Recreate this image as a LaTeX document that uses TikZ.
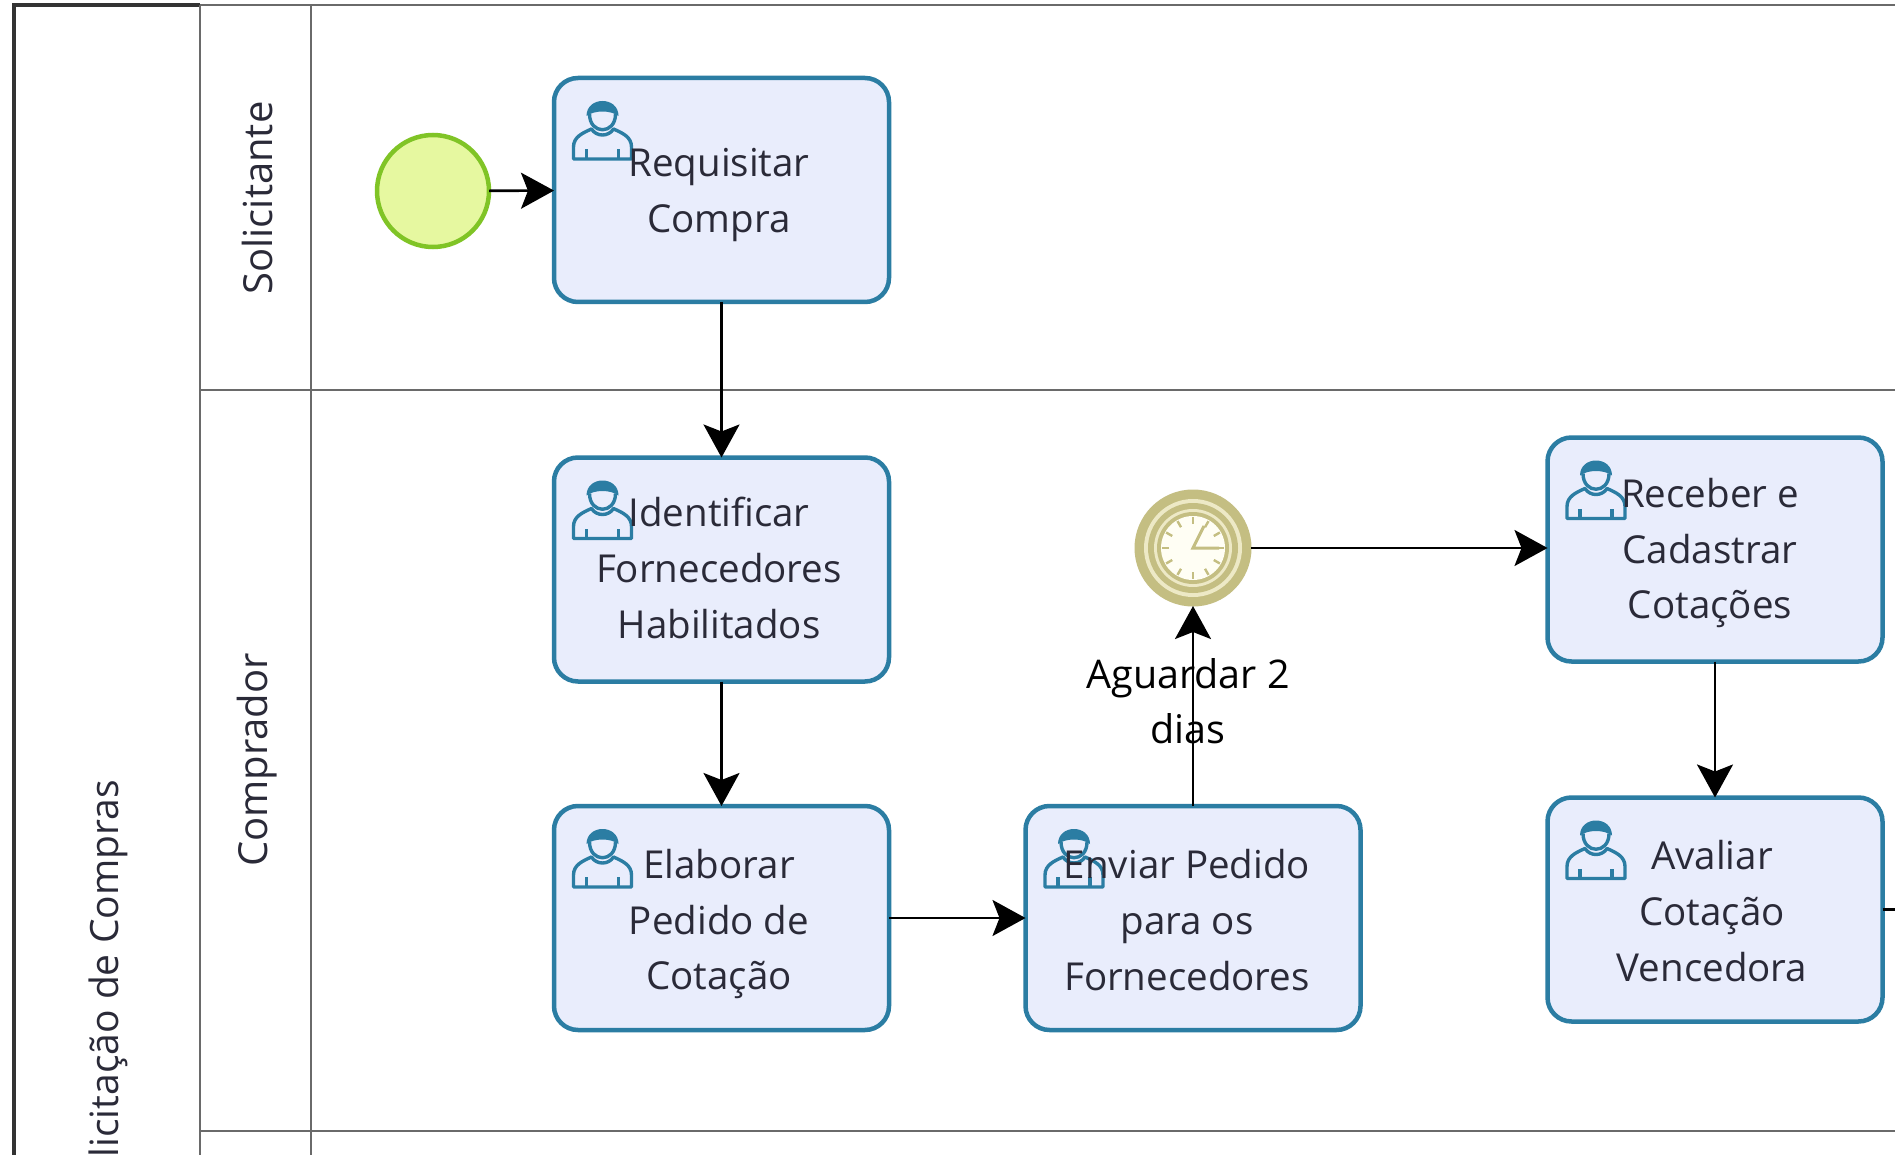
\documentclass[tikz,border=0pt]{standalone}
\usepackage{fontspec}
\setmainfont{Open Sans}
\usetikzlibrary{arrows.meta}
\definecolor{taskline}{HTML}{2B7DA3}
\definecolor{taskfill}{HTML}{E9EDFC}
\definecolor{laneline}{HTML}{6A6A6A}
\definecolor{txt}{HTML}{2A2A38}
\definecolor{timerolive}{HTML}{C4BE82}
\definecolor{timerpale}{HTML}{EDE9C6}
\definecolor{timerface}{HTML}{FFFEF4}
\tikzset{
  task/.style={draw=taskline,fill=taskfill,line width=4.5pt,rounded corners=24pt,
    minimum width=335pt,minimum height=224pt,inner sep=0pt,outer sep=0pt},
  tasklabel/.style={align=center,text=txt,inner sep=0pt,
    font=\fontsize{38.5}{55.6}\selectfont},
  lanelabel/.style={rotate=90,text=txt,inner sep=0pt,font=\fontsize{40}{44}\selectfont},
  laneedge/.style={draw=laneline,line width=2.6pt},
  flow/.style={draw=black,line width=2.6pt,-{Stealth[length=33pt,width=36pt,inset=7pt]}},
  plainflow/.style={draw=black,line width=2.6pt},
  usericon/.pic={
    \begin{scope}[draw=taskline,line width=3.4pt,line join=round]
      \draw (1,59) -- (1,47) .. controls (1,37) and (10,33) .. (19,29)
        .. controls (24,37) and (36,37) .. (41,29)
        .. controls (50,33) and (59,37) .. (59,47) -- (59,59) -- cycle;
      \draw (14,59) -- (14,49) (46,59) -- (46,49);
      \draw (17,14) .. controls (17,35) and (43,35) .. (43,14);
      \fill[taskline] (14,16) .. controls (14,-4) and (46,-4) .. (46,16)
        .. controls (38,10) and (22,10) .. (14,16) -- cycle;
    \end{scope}
  }
}
\begin{document}
\begin{tikzpicture}[x=1pt,y=-1pt]
\useasboundingbox (0,0) rectangle (1895,1155);
\begin{scope}
\clip (0,0) rectangle (1895,1155);
\fill[white] (0,0) rectangle (1895,1155);
% pool and lanes
\draw[laneedge] (14,5) -- (1895,5);
\draw[draw=black!80,line width=3.4pt] (14,1155) -- (14,5) -- (200,5);
\draw[laneedge] (200,5) -- (200,1155);
\draw[laneedge] (311,5) -- (311,1155);
\draw[laneedge] (200,390) -- (1895,390);
\draw[laneedge] (200,1131) -- (1895,1131);
\node[lanelabel,anchor=east,font=\fontsize{39}{44}\selectfont] (pooltitle) at (108,780) {Solicitação de Compras};
\node[lanelabel] (solicitante) at (257,198) {Solicitante};
\node[lanelabel] (comprador) at (257,760) {Comprador};
% start event
\node[circle,draw={rgb,255:red,128;green,196;blue,38},fill={rgb,255:red,230;green,248;blue,160},
  line width=4.5pt,minimum size=112pt,inner sep=0pt,outer sep=0pt] (start) at (433,191) {};
% tasks
\node[task] (req) at (721.5,190) {};
\node[task] (ident) at (721.5,569.5) {};
\node[task] (elab) at (721.5,918) {};
\node[task] (enviar) at (1193,918) {};
\node[task] (receber) at (1715,549.5) {};
\node[task] (avaliar) at (1715,909.5) {};
\foreach \n in {req,ident,elab,enviar,receber,avaliar}
  \pic[shift={(-149,-90)}] at (\n.center) {usericon};
\node[tasklabel] (reqt) at (719,195) {Requisitar\\Compra};
\node[tasklabel] (identt) at (719,568) {Identificar\\Fornecedores\\Habilitados};
\node[tasklabel] (elabt) at (719,924) {Elaborar\\Pedido de\\Cotação};
\node[tasklabel] (enviart) at (1187,920) {Enviar Pedido\\para os\\Fornecedores};
\node[tasklabel] (recebert) at (1710,553) {Receber e\\Cadastrar\\Cotações};
\node[tasklabel] (avaliart) at (1712,911) {Avaliar\\Cotação\\Vencedora};
% timer event
\node[circle,fill=timerolive,draw=timerolive,line width=1pt,minimum size=116pt,inner sep=0pt,outer sep=0pt] (timer) at (1193,548) {};
\fill[timerpale] (timer.center) circle[radius=49pt];
\fill[timerolive] (timer.center) circle[radius=45pt];
\fill[timerpale] (timer.center) circle[radius=39pt];
\fill[timerolive] (timer.center) circle[radius=36pt];
\fill[timerface] (timer.center) circle[radius=32pt];
\foreach \a in {0,30,...,330}
  \draw[timerolive,line width=2.4pt] (timer.center) ++(\a:24pt) -- ++(\a:7pt);
\draw[timerolive,line width=3pt] ([yshift=22pt,xshift=11pt]timer.center) -- (timer.center) -- ([xshift=26pt]timer.center);
% connectors
\draw[flow] (start) -- (req);
\draw[flow] (req) -- (ident);
\draw[flow] (ident) -- (elab);
\draw[flow] (elab) -- (enviar);
\draw[flow] (enviar) -- (timer);
\draw[flow] (timer) -- (receber.west |- timer);
\draw[flow] (receber) -- (avaliar);
\coordinate (rightedge) at (1895,909.5);
\draw[plainflow] (avaliar) -- (rightedge);
\node[align=center,text=black,inner sep=0pt,font=\fontsize{39.5}{55.6}\selectfont] (timerlabel) at (1188,701) {Aguardar 2\\dias};
\end{scope}
\end{tikzpicture}
\end{document}
